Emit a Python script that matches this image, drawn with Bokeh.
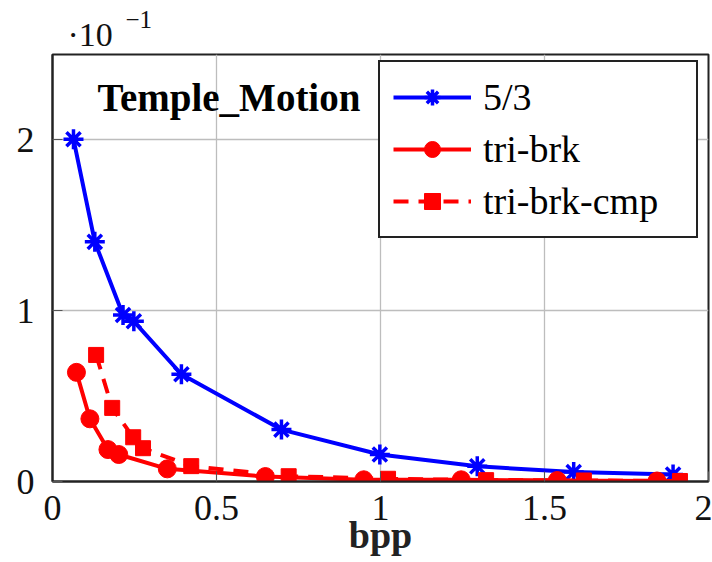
from bokeh.plotting import figure
from bokeh.layouts import column
from bokeh.models import Range1d, Legend, LegendItem, Label, FixedTicker, Title
from bokeh.embed import file_html
from bokeh.resources import INLINE

# data (y in units of 1e-1)
x_53 = [0.064, 0.129, 0.215, 0.248, 0.393, 0.698, 0.998, 1.295, 1.589, 1.892]
y_53 = [2.004, 1.403, 0.975, 0.938, 0.628, 0.304, 0.158, 0.089, 0.055, 0.041]
x_brk = [0.073, 0.114, 0.169, 0.202, 0.350, 0.649, 0.949, 1.246, 1.539, 1.843]
y_brk = [0.639, 0.367, 0.187, 0.158, 0.074, 0.029, 0.010, 0.010, 0.006, 0.003]
x_cmp = [0.133, 0.182, 0.246, 0.276, 0.423, 0.720, 1.023, 1.322, 1.620, 1.913]
y_cmp = [0.741, 0.431, 0.259, 0.195, 0.090, 0.031, 0.016, 0.008, 0.006, 0.003]
x_ticks = [0, 0.5, 1, 1.5, 2]
y_ticks = [0, 1, 2]
series_names = ["5/3", "tri-brk", "tri-brk-cmp"]

FONT = "Liberation Serif"

# header strip carrying the axis multiplier
header = figure(width=712, height=53, output_backend="svg", toolbar_location=None,
                x_range=Range1d(0, 712), y_range=Range1d(0, 53),
                x_axis_location=None, y_axis_location=None, min_border=0)
header.grid.visible = False
header.outline_line_color = None
header.background_fill_color = "white"
header.border_fill_color = "white"
header.add_layout(Label(x=15, y=19, x_units="screen", y_units="screen", text="·10",
                        text_font=FONT, text_font_size="34px",
                        text_baseline="alphabetic", text_color="#111111"))
header.add_layout(Label(x=73, y=34, x_units="screen", y_units="screen", text="−1",
                        text_font=FONT, text_font_size="25px",
                        text_baseline="alphabetic", text_color="#111111"))

p = figure(width=712, height=509, output_backend="svg", toolbar_location=None,
           x_range=Range1d(0, 2), y_range=Range1d(0, 2.5),
           min_border_left=52, min_border_right=4, min_border_top=1, min_border_bottom=81)
p.background_fill_color = "white"
p.border_fill_color = "white"
p.outline_line_color = "#222222"
p.outline_line_width = 2
p.outline_line_alpha = 1

for ax in (p.xaxis[0], p.yaxis[0]):
    ax.axis_line_color = "#222222"
    ax.axis_line_width = 2
    ax.major_tick_in = 10
    ax.major_tick_out = 0
    ax.major_tick_line_color = "#555555"
    ax.minor_tick_line_color = None
    ax.major_label_text_font = FONT
    ax.major_label_text_font_size = "36px"
    ax.major_label_text_color = "#111111"
p.xaxis[0].ticker = FixedTicker(ticks=x_ticks)
p.yaxis[0].ticker = FixedTicker(ticks=y_ticks)
p.xaxis[0].major_label_standoff = 14
p.yaxis[0].major_label_standoff = 18

p.xgrid.ticker = FixedTicker(ticks=x_ticks)
p.ygrid.ticker = FixedTicker(ticks=y_ticks)
for g in (p.xgrid[0], p.ygrid[0]):
    g.grid_line_color = "#bdbdbd"
    g.grid_line_width = 1.3

l1 = p.line(x_53, y_53, line_color="blue", line_width=4)
s1 = p.scatter(x_53, y_53, marker="asterisk", size=20, line_color="blue", line_width=3.5)
l2 = p.line(x_brk, y_brk, line_color="red", line_width=4)
s2 = p.scatter(x_brk, y_brk, marker="circle", size=18, fill_color="red", line_color="red")
l3 = p.line(x_cmp, y_cmp, line_color="red", line_width=4, line_dash="15 10")
s3 = p.scatter(x_cmp, y_cmp, marker="square", size=15, fill_color="red", line_color="red")

legend = Legend(items=[LegendItem(label=series_names[0], renderers=[l1, s1]),
                       LegendItem(label=series_names[1], renderers=[l2, s2]),
                       LegendItem(label=series_names[2], renderers=[l3, s3])],
                location=(326, 243), margin=0, padding=13, spacing=8,
                glyph_width=78, glyph_height=40, label_height=40, label_width=200,
                label_standoff=12,
                label_text_font=FONT, label_text_font_size="38px", label_text_color="black",
                border_line_color="#222222", border_line_width=2, border_line_alpha=1,
                background_fill_color="white", background_fill_alpha=1.0)
p.add_layout(legend)

p.add_layout(Label(x=45, y=384, x_units="screen", y_units="screen", text="Temple_Motion",
                   text_font=FONT, text_font_size="39px", text_font_style="bold",
                   text_baseline="alphabetic", text_color="black"))

p.add_layout(Title(text="bpp", align="center", text_font=FONT, text_font_size="38px",
                   text_font_style="bold", text_color="#222222", standoff=-21), "below")

open("out.html", "w").write(file_html(column(header, p), INLINE))
